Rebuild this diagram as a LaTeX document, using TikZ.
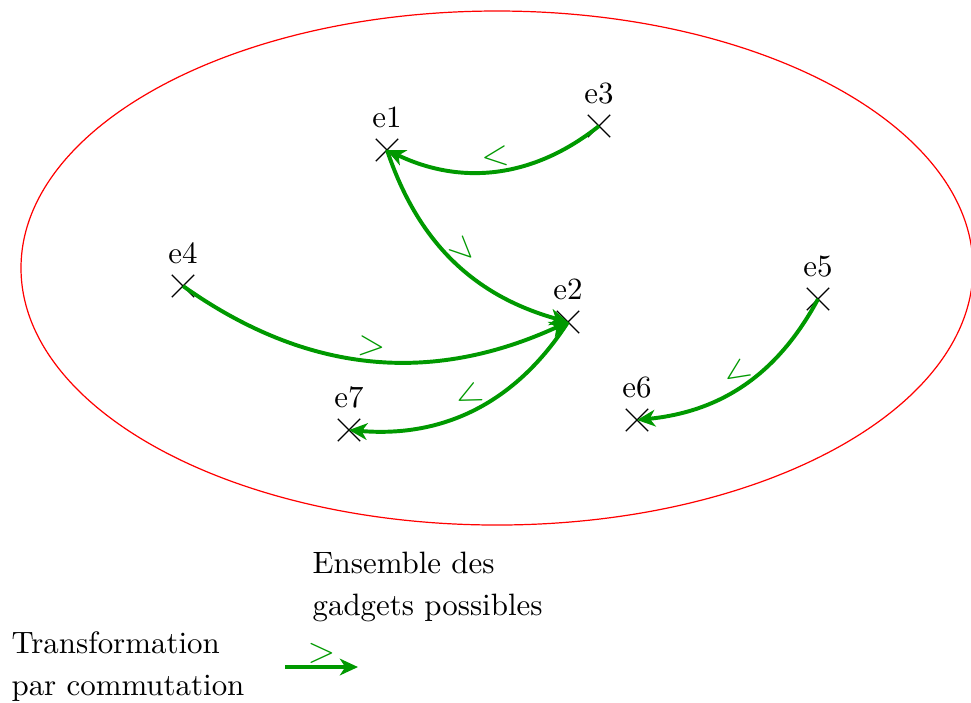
\documentclass[tikz,border=0pt]{standalone}
\usetikzlibrary{arrows.meta,shapes.misc,shapes.geometric}
\begin{document}
\begin{tikzpicture}[x=0.33pt,y=-0.33pt,
  txt/.style={font=\fontsize{10.2}{14}\selectfont},
  every label/.style={txt},
  pt/.style={cross out, draw=black, line width=0.4pt, minimum size=7pt, inner sep=0pt},
  flow/.style={draw=green!60!black, line width=1.3pt, -{Stealth[length=6pt,width=5.5pt,inset=1.8pt]}},
  lbl/.style={sloped, above, inner sep=0.6pt, text=green!60!black, font=\large},
  legtxt/.style={txt, align=left, inner sep=0pt}]
\useasboundingbox (0,0) rectangle (971,702);
\node[ellipse, draw=red, line width=0.4pt, minimum width=314.16pt, minimum height=169.62pt, inner sep=0pt] (ens) at (497,268) {};
\node[pt, label={above:e1}] (e1) at (387,150) {};
\node[pt, label={above:e3}] (e3) at (599,126) {};
\node[pt, label={above:e4}] (e4) at (183,286) {};
\node[pt, label={above:e2}] (e2) at (568,322) {};
\node[pt, label={above:e5}] (e5) at (818,299) {};
\node[pt, label={above:e6}] (e6) at (637,420) {};
\node[pt, label={above:e7}] (e7) at (349,430) {};
\draw[flow] (e3.center) to[bend left=32] node[lbl] {$<$} (e1.center);
\draw[flow] (e1.center) to[bend right=28] node[lbl] {$>$} (e2.center);
\draw[flow] (e4.center) to[bend right=30] node[lbl] {$>$} (e2.center);
\draw[flow] (e2.center) to[bend left=31] node[lbl] {$<$} (e7.center);
\draw[flow] (e5.center) to[bend left=28] node[lbl] {$<$} (e6.center);
\node[legtxt, anchor=north west] (le) at (312,551) {Ensemble des\\gadgets possibles};
\node[legtxt, anchor=north west] (lt) at (11,631) {Transformation\\par commutation};
\coordinate (legA) at (285,667);
\coordinate (legB) at (358,667);
\draw[flow] (legA) -- node[lbl] {$>$} (legB);
\end{tikzpicture}
\end{document}
